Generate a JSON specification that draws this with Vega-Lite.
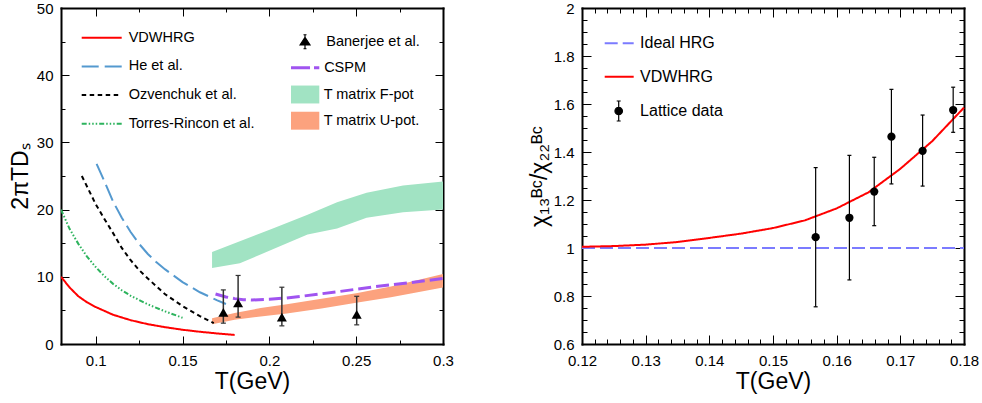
{
  "$schema": "https://vega.github.io/schema/vega-lite/v6.json",
  "padding": {"left": 9, "top": 1, "right": 2, "bottom": 2},
  "spacing": 139,
  "bounds": "flush",
  "resolve": {
    "scale": {"stroke": "independent", "strokeDash": "independent", "strokeWidth": "independent", "shape": "independent", "color": "independent", "fill": "independent", "opacity": "independent"},
    "legend": {"stroke": "independent", "strokeDash": "independent", "shape": "independent", "color": "independent", "fill": "independent", "opacity": "independent"}
  },
  "config": {
    "font": "Liberation Sans",
    "view": {"stroke": null},
    "axis": {"domain": false, "domainColor": "#000", "domainWidth": 2, "domainCap": "square", "grid": false, "tickColor": "#000", "tickWidth": 1, "labelColor": "#000", "labelFontSize": 15, "labelFont": "Liberation Sans", "titleFont": "Liberation Sans", "titleFontSize": 23, "titleFontWeight": "normal", "titleColor": "#000", "labelFlush": false, "labelOverlap": false, "labelBound": false, "zindex": 1},
    "legend": {"padding": 0, "labelFont": "Liberation Sans", "labelColor": "#000", "labelLimit": 300}
  },
  "datasets": {
    "bands": [
      {"band": "T matrix F-pot", "T": 0.167, "lo": 11.3, "hi": 13.7},
      {"band": "T matrix F-pot", "T": 0.183, "lo": 12.0, "hi": 15.3},
      {"band": "T matrix F-pot", "T": 0.202, "lo": 14.1, "hi": 17.2},
      {"band": "T matrix F-pot", "T": 0.222, "lo": 16.3, "hi": 19.25},
      {"band": "T matrix F-pot", "T": 0.239, "lo": 17.2, "hi": 21.1},
      {"band": "T matrix F-pot", "T": 0.256, "lo": 18.8, "hi": 22.5},
      {"band": "T matrix F-pot", "T": 0.277, "lo": 19.6, "hi": 23.6},
      {"band": "T matrix F-pot", "T": 0.3, "lo": 20.0, "hi": 24.2},
      {"band": "T matrix U-pot.", "T": 0.167, "lo": 2.95, "hi": 3.85},
      {"band": "T matrix U-pot.", "T": 0.18, "lo": 3.6, "hi": 4.6},
      {"band": "T matrix U-pot.", "T": 0.195, "lo": 4.1, "hi": 5.35},
      {"band": "T matrix U-pot.", "T": 0.21, "lo": 4.55, "hi": 5.9},
      {"band": "T matrix U-pot.", "T": 0.23, "lo": 5.3, "hi": 6.75},
      {"band": "T matrix U-pot.", "T": 0.25, "lo": 6.15, "hi": 7.55},
      {"band": "T matrix U-pot.", "T": 0.27, "lo": 6.95, "hi": 8.55},
      {"band": "T matrix U-pot.", "T": 0.3, "lo": 8.4, "hi": 10.4}
    ],
    "lines": [
      {"model": "VDWHRG", "T": 0.08, "v": 10.0},
      {"model": "VDWHRG", "T": 0.085, "v": 8.4},
      {"model": "VDWHRG", "T": 0.09, "v": 7.1},
      {"model": "VDWHRG", "T": 0.095, "v": 6.2},
      {"model": "VDWHRG", "T": 0.1, "v": 5.5},
      {"model": "VDWHRG", "T": 0.11, "v": 4.35},
      {"model": "VDWHRG", "T": 0.12, "v": 3.55},
      {"model": "VDWHRG", "T": 0.13, "v": 2.95},
      {"model": "VDWHRG", "T": 0.14, "v": 2.5},
      {"model": "VDWHRG", "T": 0.15, "v": 2.12},
      {"model": "VDWHRG", "T": 0.16, "v": 1.82},
      {"model": "VDWHRG", "T": 0.17, "v": 1.57},
      {"model": "VDWHRG", "T": 0.18, "v": 1.35},
      {"model": "He et al.", "T": 0.1005, "v": 26.8},
      {"model": "He et al.", "T": 0.105, "v": 24.2},
      {"model": "He et al.", "T": 0.11, "v": 21.2},
      {"model": "He et al.", "T": 0.115, "v": 18.8},
      {"model": "He et al.", "T": 0.12, "v": 16.7},
      {"model": "He et al.", "T": 0.125, "v": 14.9},
      {"model": "He et al.", "T": 0.13, "v": 13.4},
      {"model": "He et al.", "T": 0.135, "v": 12.15},
      {"model": "He et al.", "T": 0.14, "v": 11.1},
      {"model": "He et al.", "T": 0.15, "v": 9.2},
      {"model": "He et al.", "T": 0.16, "v": 7.7},
      {"model": "He et al.", "T": 0.17, "v": 6.5},
      {"model": "He et al.", "T": 0.175, "v": 5.95},
      {"model": "Ozvenchuk et al.", "T": 0.092, "v": 25.0},
      {"model": "Ozvenchuk et al.", "T": 0.1, "v": 20.8},
      {"model": "Ozvenchuk et al.", "T": 0.105, "v": 18.6},
      {"model": "Ozvenchuk et al.", "T": 0.11, "v": 16.5},
      {"model": "Ozvenchuk et al.", "T": 0.115, "v": 14.3},
      {"model": "Ozvenchuk et al.", "T": 0.12, "v": 12.5},
      {"model": "Ozvenchuk et al.", "T": 0.125, "v": 11.0},
      {"model": "Ozvenchuk et al.", "T": 0.13, "v": 9.75},
      {"model": "Ozvenchuk et al.", "T": 0.14, "v": 7.4},
      {"model": "Ozvenchuk et al.", "T": 0.15, "v": 5.65},
      {"model": "Ozvenchuk et al.", "T": 0.16, "v": 4.15},
      {"model": "Ozvenchuk et al.", "T": 0.168, "v": 3.1},
      {"model": "Torres-Rincon et al.", "T": 0.08, "v": 20.0},
      {"model": "Torres-Rincon et al.", "T": 0.085, "v": 17.1},
      {"model": "Torres-Rincon et al.", "T": 0.09, "v": 14.9},
      {"model": "Torres-Rincon et al.", "T": 0.095, "v": 13.0},
      {"model": "Torres-Rincon et al.", "T": 0.1, "v": 11.45},
      {"model": "Torres-Rincon et al.", "T": 0.105, "v": 10.1},
      {"model": "Torres-Rincon et al.", "T": 0.11, "v": 8.95},
      {"model": "Torres-Rincon et al.", "T": 0.115, "v": 8.0},
      {"model": "Torres-Rincon et al.", "T": 0.12, "v": 7.2},
      {"model": "Torres-Rincon et al.", "T": 0.13, "v": 5.9},
      {"model": "Torres-Rincon et al.", "T": 0.14, "v": 4.85},
      {"model": "Torres-Rincon et al.", "T": 0.15, "v": 3.9}
    ],
    "cspm": [
      {"model": "CSPM", "T": 0.169, "v": 7.45},
      {"model": "CSPM", "T": 0.175, "v": 7.0},
      {"model": "CSPM", "T": 0.18, "v": 6.75},
      {"model": "CSPM", "T": 0.185, "v": 6.6},
      {"model": "CSPM", "T": 0.19, "v": 6.55},
      {"model": "CSPM", "T": 0.2, "v": 6.65},
      {"model": "CSPM", "T": 0.21, "v": 6.85},
      {"model": "CSPM", "T": 0.22, "v": 7.15},
      {"model": "CSPM", "T": 0.24, "v": 7.8},
      {"model": "CSPM", "T": 0.26, "v": 8.5},
      {"model": "CSPM", "T": 0.28, "v": 9.1},
      {"model": "CSPM", "T": 0.3, "v": 9.75}
    ],
    "ban": [
      {"src": "Banerjee et al.", "T": 0.1735, "v": 4.7, "lo": 3.1, "hi": 8.05},
      {"src": "Banerjee et al.", "T": 0.182, "v": 6.1, "lo": 4.0, "hi": 10.2},
      {"src": "Banerjee et al.", "T": 0.2072, "v": 4.0, "lo": 2.7, "hi": 8.45},
      {"src": "Banerjee et al.", "T": 0.2503, "v": 4.4, "lo": 2.85, "hi": 7.1}
    ],
    "rlines": [
      {"model": "Ideal HRG", "T": 0.12, "v": 1.0},
      {"model": "Ideal HRG", "T": 0.18, "v": 1.0},
      {"model": "VDWHRG", "T": 0.12, "v": 1.005},
      {"model": "VDWHRG", "T": 0.125, "v": 1.008},
      {"model": "VDWHRG", "T": 0.13, "v": 1.014},
      {"model": "VDWHRG", "T": 0.135, "v": 1.025},
      {"model": "VDWHRG", "T": 0.14, "v": 1.042},
      {"model": "VDWHRG", "T": 0.145, "v": 1.06},
      {"model": "VDWHRG", "T": 0.15, "v": 1.083},
      {"model": "VDWHRG", "T": 0.155, "v": 1.115},
      {"model": "VDWHRG", "T": 0.16, "v": 1.165},
      {"model": "VDWHRG", "T": 0.165, "v": 1.232},
      {"model": "VDWHRG", "T": 0.17, "v": 1.33},
      {"model": "VDWHRG", "T": 0.175, "v": 1.445},
      {"model": "VDWHRG", "T": 0.18, "v": 1.585}
    ],
    "lat": [
      {"src": "Lattice data", "T": 0.1567, "v": 1.045, "lo": 0.755, "hi": 1.335},
      {"src": "Lattice data", "T": 0.162, "v": 1.126, "lo": 0.867, "hi": 1.386},
      {"src": "Lattice data", "T": 0.1659, "v": 1.235, "lo": 1.093, "hi": 1.378},
      {"src": "Lattice data", "T": 0.1686, "v": 1.464, "lo": 1.267, "hi": 1.661},
      {"src": "Lattice data", "T": 0.1735, "v": 1.405, "lo": 1.258, "hi": 1.554},
      {"src": "Lattice data", "T": 0.1783, "v": 1.575, "lo": 1.482, "hi": 1.67}
    ]
  },
  "hconcat": [
    {
      "width": 382,
      "height": 336,
      "resolve": {"axis": {"x": "independent", "y": "independent"}},
      "layer": [
        {
          "data": {"name": "bands"},
          "mark": {"type": "area", "opacity": 1},
          "encoding": {
            "x": {"field": "T", "type": "quantitative", "scale": {"domain": [0.08, 0.3], "nice": false, "zero": false},
              "axis": {"orient": "bottom", "values": [0.1, 0.15, 0.2, 0.25, 0.3], "tickSize": -8, "labelPadding": 17, "labelExpr": "format(datum.value, '~g')", "domain": true, "title": "T(GeV)", "titlePadding": 2}},
            "y": {"field": "lo", "type": "quantitative", "scale": {"domain": [0, 50], "nice": false, "zero": false},
              "axis": {"orient": "left", "values": [0, 10, 20, 30, 40, 50], "tickSize": -8, "labelPadding": 16, "domain": true, "title": "2πTDₛ", "titlePadding": 4}},
            "y2": {"field": "hi"},
            "fill": {"field": "band", "type": "nominal",
              "scale": {"domain": ["T matrix F-pot", "T matrix U-pot."], "range": ["#a1e3c3", "#fca27e"]},
              "legend": {"title": null, "orient": "none", "legendX": 230, "legendY": 77, "symbolType": "M-1.5,-0.95H1.5V0.95H-1.5Z", "symbolSize": 356, "symbolStrokeWidth": 0, "symbolOffset": 4.65, "labelOffset": 9, "labelFontSize": 14.5, "rowPadding": 7.2, "padding": 0}}
          }
        },
        {
          "data": {"name": "lines"},
          "mark": {"type": "line", "clip": true},
          "encoding": {
            "x": {"field": "T", "type": "quantitative", "scale": {"domain": [0.08, 0.3], "nice": false, "zero": false},
              "axis": {"orient": "bottom", "values": [0.125, 0.175, 0.225, 0.275], "labels": false, "tickSize": -4, "domain": false, "title": null}},
            "y": {"field": "v", "type": "quantitative", "scale": {"domain": [0, 50], "nice": false, "zero": false},
              "axis": {"orient": "left", "values": [5, 15, 25, 35, 45], "labels": false, "tickSize": -4, "domain": false, "title": null}},
            "stroke": {"field": "model", "type": "nominal",
              "scale": {"domain": ["VDWHRG", "He et al.", "Ozvenchuk et al.", "Torres-Rincon et al."], "range": ["#ff0000", "#5499cf", "#000000", "#2db35d"]},
              "legend": {"title": null, "orient": "none", "legendX": 20.7, "legendY": 18.7, "symbolType": "M-2,0H2", "symbolSize": 400, "symbolStrokeWidth": 2, "symbolOffset": 9, "labelOffset": 16, "labelFontSize": 14.5, "rowPadding": 10.7, "padding": 0}},
            "strokeDash": {"field": "model", "type": "nominal",
              "scale": {"domain": ["VDWHRG", "He et al.", "Ozvenchuk et al.", "Torres-Rincon et al."], "range": [[1, 0], [17, 6], [4.5, 3.5], [5, 2, 1.5, 2, 1.5, 2, 1.5, 2]]},
              "legend": {"title": null, "orient": "none", "legendX": 20.7, "legendY": 18.7, "symbolType": "M-2,0H2", "symbolSize": 400, "symbolStrokeWidth": 2, "symbolOffset": 9, "labelOffset": 16, "labelFontSize": 14.5, "rowPadding": 10.7, "padding": 0}},
            "strokeWidth": {"field": "model", "type": "nominal",
              "scale": {"domain": ["VDWHRG", "He et al.", "Ozvenchuk et al.", "Torres-Rincon et al."], "range": [2, 2, 2.5, 2.5]},
              "legend": null}
          }
        },
        {
          "data": {"name": "cspm"},
          "mark": {"type": "line", "strokeWidth": 3, "strokeDash": [13, 5]},
          "encoding": {
            "x": {"field": "T", "type": "quantitative", "scale": {"domain": [0.08, 0.3], "nice": false, "zero": false},
              "axis": {"orient": "top", "values": [0.1, 0.15, 0.2, 0.25, 0.3], "labels": false, "tickSize": -8, "domain": true, "title": null}},
            "y": {"field": "v", "type": "quantitative", "scale": {"domain": [0, 50], "nice": false, "zero": false},
              "axis": {"orient": "right", "values": [0, 10, 20, 30, 40, 50], "labels": false, "tickSize": -8, "domain": true, "title": null}},
            "color": {"field": "model", "type": "nominal",
              "scale": {"domain": ["CSPM"], "range": ["#a054f0"]},
              "legend": {"title": null, "orient": "none", "legendX": 230, "legendY": 50.7, "symbolType": "M-2,0H2", "symbolSize": 200, "symbolStrokeWidth": 3, "symbolDash": [19, 4], "symbolOffset": 5.15, "labelOffset": 10, "labelFontSize": 14.5, "padding": 0}}
          }
        },
        {
          "data": {"name": "ban"},
          "mark": {"type": "rule", "color": "#333333", "strokeWidth": 1.5},
          "encoding": {
            "x": {"field": "T", "type": "quantitative", "scale": {"domain": [0.08, 0.3], "nice": false, "zero": false},
              "axis": {"orient": "top", "values": [0.125, 0.175, 0.225, 0.275], "labels": false, "tickSize": -4, "domain": false, "title": null}},
            "y": {"field": "lo", "type": "quantitative", "scale": {"domain": [0, 50], "nice": false, "zero": false},
              "axis": {"orient": "right", "values": [5, 15, 25, 35, 45], "labels": false, "tickSize": -4, "domain": false, "title": null}},
            "y2": {"field": "hi"},
            "opacity": {"field": "src", "type": "nominal",
              "scale": {"domain": ["Banerjee et al."], "range": [1]},
              "legend": {"title": null, "orient": "none", "legendX": 230, "legendY": 26.5, "symbolType": "M-1,0.65L0,-0.9L1,0.65Z M0,-1.4V1.4 M-0.3,-1.4H0.3 M-0.3,1.4H0.3", "symbolSize": 100, "symbolFillColor": "#000", "symbolStrokeColor": "#000", "symbolStrokeWidth": 1.2, "symbolOpacity": 1, "symbolOffset": 6.75, "labelOffset": 14, "labelFontSize": 14.5, "padding": 0}}
          }
        },
        {
          "data": {"name": "ban"},
          "mark": {"type": "tick", "orient": "horizontal", "color": "#333333", "size": 5, "thickness": 1.2, "opacity": 1},
          "encoding": {
            "x": {"field": "T", "type": "quantitative", "scale": {"domain": [0.08, 0.3], "nice": false, "zero": false}, "axis": null},
            "y": {"field": "lo", "type": "quantitative", "scale": {"domain": [0, 50], "nice": false, "zero": false}, "axis": null}
          }
        },
        {
          "data": {"name": "ban"},
          "mark": {"type": "tick", "orient": "horizontal", "color": "#333333", "size": 5, "thickness": 1.2, "opacity": 1},
          "encoding": {
            "x": {"field": "T", "type": "quantitative", "scale": {"domain": [0.08, 0.3], "nice": false, "zero": false}, "axis": null},
            "y": {"field": "hi", "type": "quantitative", "scale": {"domain": [0, 50], "nice": false, "zero": false}, "axis": null}
          }
        },
        {
          "data": {"name": "ban"},
          "mark": {"type": "point", "shape": "triangle-up", "filled": true, "color": "#000000", "size": 100, "opacity": 1},
          "encoding": {
            "x": {"field": "T", "type": "quantitative", "scale": {"domain": [0.08, 0.3], "nice": false, "zero": false}, "axis": null},
            "y": {"field": "v", "type": "quantitative", "scale": {"domain": [0, 50], "nice": false, "zero": false}, "axis": null}
          }
        }
      ]
    },
    {
      "width": 382,
      "height": 336,
      "resolve": {"axis": {"x": "independent", "y": "independent"}},
      "layer": [
        {
          "data": {"name": "rlines"},
          "mark": {"type": "line", "strokeWidth": 2},
          "encoding": {
            "x": {"field": "T", "type": "quantitative", "scale": {"domain": [0.12, 0.18], "nice": false, "zero": false},
              "axis": {"orient": "bottom", "values": [0.12, 0.13, 0.14, 0.15, 0.16, 0.17, 0.18], "tickSize": -9, "labelPadding": 18, "labelExpr": "format(datum.value, '~g')", "domain": true, "title": "T(GeV)", "titlePadding": 2}},
            "y": {"field": "v", "type": "quantitative", "scale": {"domain": [0.6, 2], "nice": false, "zero": false},
              "axis": {"orient": "left", "values": [0.6, 0.8, 1, 1.2, 1.4, 1.6, 1.8, 2], "tickSize": -9, "labelPadding": 17, "labelExpr": "format(datum.value, '~g')", "domain": true, "title": "χ₁₃ᴮᶜ/χ₂₂ᴮᶜ", "titleFontSize": 23, "titlePadding": 2}},
            "stroke": {"field": "model", "type": "nominal",
              "scale": {"domain": ["Ideal HRG", "VDWHRG"], "range": ["#7b7bff", "#ff0000"]},
              "legend": {"title": null, "orient": "none", "legendX": 22.7, "legendY": 26.8, "symbolType": "M-2,0H2", "symbolSize": 210, "symbolStrokeWidth": 2, "symbolOffset": 6, "labelOffset": 12.4, "labelFontSize": 16, "rowPadding": 16.4, "padding": 0}},
            "strokeDash": {"field": "model", "type": "nominal",
              "scale": {"domain": ["Ideal HRG", "VDWHRG"], "range": [[13, 5], [1, 0]]},
              "legend": {"title": null, "orient": "none", "legendX": 22.7, "legendY": 26.8, "symbolType": "M-2,0H2", "symbolSize": 210, "symbolStrokeWidth": 2, "symbolOffset": 6, "labelOffset": 12.4, "labelFontSize": 16, "rowPadding": 16.4, "padding": 0}}
          }
        },
        {
          "data": {"name": "lat"},
          "mark": {"type": "rule", "color": "#000000", "strokeWidth": 1.2},
          "encoding": {
            "x": {"field": "T", "type": "quantitative", "scale": {"domain": [0.12, 0.18], "nice": false, "zero": false},
              "axis": {"orient": "bottom", "values": [0.122, 0.124, 0.126, 0.128, 0.132, 0.134, 0.136, 0.138, 0.142, 0.144, 0.146, 0.148, 0.152, 0.154, 0.156, 0.158, 0.162, 0.164, 0.166, 0.168, 0.172, 0.174, 0.176, 0.178], "labels": false, "tickSize": -5, "domain": false, "title": null}},
            "y": {"field": "lo", "type": "quantitative", "scale": {"domain": [0.6, 2], "nice": false, "zero": false},
              "axis": {"orient": "left", "values": [0.65, 0.7, 0.75, 0.85, 0.9, 0.95, 1.05, 1.1, 1.15, 1.25, 1.3, 1.35, 1.45, 1.5, 1.55, 1.65, 1.7, 1.75, 1.85, 1.9, 1.95], "labels": false, "tickSize": -5, "domain": false, "title": null}},
            "y2": {"field": "hi"},
            "opacity": {"field": "src", "type": "nominal",
              "scale": {"domain": ["Lattice data"], "range": [1]},
              "legend": {"title": null, "orient": "none", "legendX": 22.7, "legendY": 95, "symbolType": "M-0.75,0A0.75,0.75 0 1,0 0.75,0A0.75,0.75 0 1,0 -0.75,0Z M0,-2V2 M-0.4,-2H0.4 M-0.4,2H0.4", "symbolSize": 100, "symbolFillColor": "#000", "symbolStrokeColor": "#000", "symbolStrokeWidth": 1.2, "symbolOpacity": 1, "symbolOffset": 6, "labelOffset": 13.4, "labelFontSize": 16, "padding": 0}}
          }
        },
        {
          "data": {"name": "lat"},
          "mark": {"type": "tick", "orient": "horizontal", "color": "#000000", "size": 4, "thickness": 1.2, "opacity": 1},
          "encoding": {
            "x": {"field": "T", "type": "quantitative", "scale": {"domain": [0.12, 0.18], "nice": false, "zero": false},
              "axis": {"orient": "top", "values": [0.12, 0.13, 0.14, 0.15, 0.16, 0.17, 0.18], "labels": false, "tickSize": -9, "domain": true, "title": null}},
            "y": {"field": "lo", "type": "quantitative", "scale": {"domain": [0.6, 2], "nice": false, "zero": false},
              "axis": {"orient": "right", "values": [0.6, 0.8, 1, 1.2, 1.4, 1.6, 1.8, 2], "labels": false, "tickSize": -9, "domain": true, "title": null}}
          }
        },
        {
          "data": {"name": "lat"},
          "mark": {"type": "tick", "orient": "horizontal", "color": "#000000", "size": 4, "thickness": 1.2, "opacity": 1},
          "encoding": {
            "x": {"field": "T", "type": "quantitative", "scale": {"domain": [0.12, 0.18], "nice": false, "zero": false},
              "axis": {"orient": "top", "values": [0.122, 0.124, 0.126, 0.128, 0.132, 0.134, 0.136, 0.138, 0.142, 0.144, 0.146, 0.148, 0.152, 0.154, 0.156, 0.158, 0.162, 0.164, 0.166, 0.168, 0.172, 0.174, 0.176, 0.178], "labels": false, "tickSize": -5, "domain": false, "title": null}},
            "y": {"field": "hi", "type": "quantitative", "scale": {"domain": [0.6, 2], "nice": false, "zero": false},
              "axis": {"orient": "right", "values": [0.65, 0.7, 0.75, 0.85, 0.9, 0.95, 1.05, 1.1, 1.15, 1.25, 1.3, 1.35, 1.45, 1.5, 1.55, 1.65, 1.7, 1.75, 1.85, 1.9, 1.95], "labels": false, "tickSize": -5, "domain": false, "title": null}}
          }
        },
        {
          "data": {"name": "lat"},
          "mark": {"type": "point", "shape": "circle", "filled": true, "color": "#000000", "size": 68, "opacity": 1},
          "encoding": {
            "x": {"field": "T", "type": "quantitative", "scale": {"domain": [0.12, 0.18], "nice": false, "zero": false}, "axis": null},
            "y": {"field": "v", "type": "quantitative", "scale": {"domain": [0.6, 2], "nice": false, "zero": false}, "axis": null}
          }
        }
      ]
    }
  ]
}
